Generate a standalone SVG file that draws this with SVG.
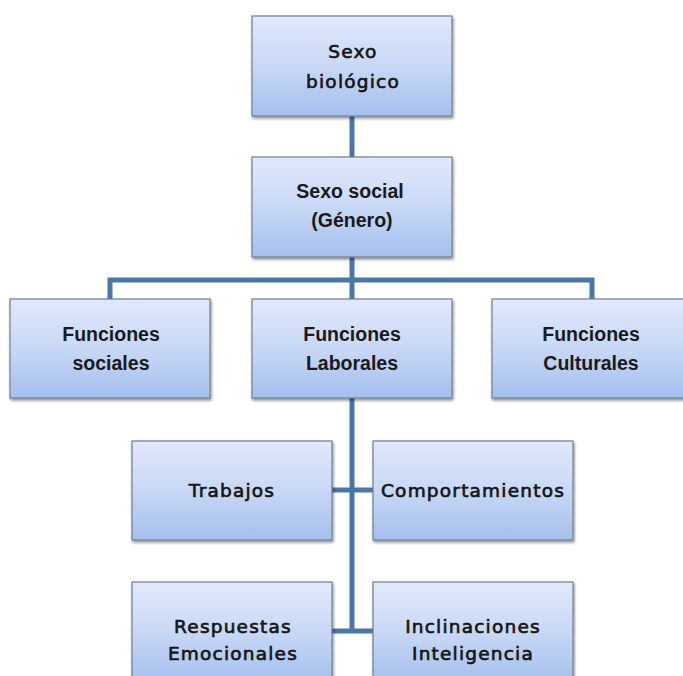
<svg xmlns="http://www.w3.org/2000/svg" width="683" height="676" viewBox="0 0 683 676">
<style>
.box{fill:url(#g);stroke:#6f7f95;stroke-width:1.2;filter:url(#sh)}
.c{stroke:#4a77aa;stroke-width:5;fill:none}
.a{font-family:"Liberation Sans",Arial,sans-serif;font-weight:bold;font-size:19.5px;fill:#1a1a1a;text-anchor:middle}
.v{font-family:"DejaVu Sans",Verdana,sans-serif;font-size:18.5px;letter-spacing:1.2px;fill:#151515;stroke:#151515;stroke-width:0.65;text-anchor:middle}
</style>
<defs>
<linearGradient id="g" x1="0" y1="0" x2="0" y2="1">
<stop offset="0" stop-color="#e1e9fb"/>
<stop offset="0.5" stop-color="#c8d8f6"/>
<stop offset="1" stop-color="#a5bfee"/>
</linearGradient>
<filter id="sh" x="-10%" y="-10%" width="125%" height="130%">
<feGaussianBlur in="SourceAlpha" stdDeviation="1.5"/>
<feOffset dx="1" dy="2" result="b"/>
<feComponentTransfer><feFuncA type="linear" slope="0.45"/></feComponentTransfer>
<feMerge><feMergeNode/><feMergeNode in="SourceGraphic"/></feMerge>
</filter>
</defs>
<rect width="683" height="676" fill="#ffffff"/>
<g id="connectors">
<line class="c" x1="352" y1="116" x2="352" y2="157"/>
<line class="c" x1="352" y1="257" x2="352" y2="299"/>
<polyline class="c" points="110,299 110,280 592,280 592,299"/>
<line class="c" x1="352" y1="398" x2="352" y2="633"/>
<line class="c" x1="332" y1="490" x2="373" y2="490"/>
<line class="c" x1="332" y1="631" x2="373" y2="631"/>
</g>
<g id="sexo-biologico">
<rect class="box" x="252" y="16" width="200" height="100"/>
<text class="v" x="353" y="58">Sexo</text>
<text class="v" x="353" y="88">biológico</text>
</g>
<g id="sexo-social">
<rect class="box" x="252" y="157" width="200" height="100"/>
<text class="a" x="350" y="198">Sexo social</text>
<text class="a" x="352" y="227">(Género)</text>
</g>
<g id="funciones-sociales">
<rect class="box" x="10" y="299" width="200" height="99"/>
<text class="a" x="111" y="341">Funciones</text>
<text class="a" x="111" y="370">sociales</text>
</g>
<g id="funciones-laborales">
<rect class="box" x="252" y="299" width="200" height="99"/>
<text class="a" x="352" y="341">Funciones</text>
<text class="a" x="352" y="370">Laborales</text>
</g>
<g id="funciones-culturales">
<rect class="box" x="492" y="299" width="200" height="99"/>
<text class="a" x="591" y="341">Funciones</text>
<text class="a" x="591" y="370">Culturales</text>
</g>
<g id="trabajos">
<rect class="box" x="132" y="441" width="200" height="99"/>
<text class="v" x="232" y="497">Trabajos</text>
</g>
<g id="comportamientos">
<rect class="box" x="373" y="441" width="200" height="99"/>
<text class="v" x="473" y="497">Comportamientos</text>
</g>
<g id="respuestas-emocionales">
<rect class="box" x="132" y="582" width="200" height="100"/>
<text class="v" x="233" y="633">Respuestas</text>
<text class="v" x="233" y="660">Emocionales</text>
</g>
<g id="inclinaciones-inteligencia">
<rect class="box" x="373" y="582" width="200" height="100"/>
<text class="v" x="473" y="633">Inclinaciones</text>
<text class="v" x="473" y="660">Inteligencia</text>
</g>
</svg>
